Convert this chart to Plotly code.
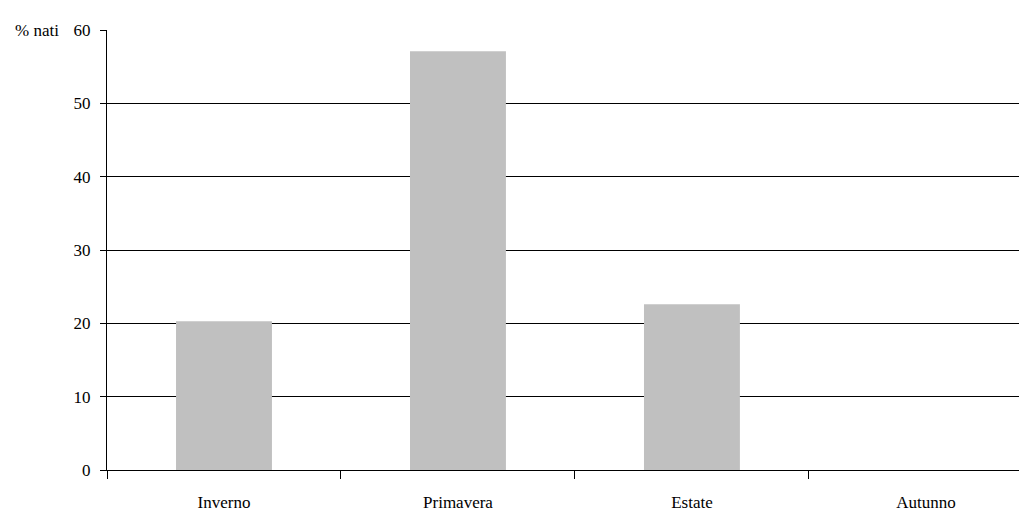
import plotly.graph_objects as go

categories = ["Inverno", "Primavera", "Estate", "Autunno"]
values = [20.3, 57.1, 22.6, 0]
y_ticks = [0, 10, 20, 30, 40, 50, 60]

font = dict(family="Liberation Serif", size=17, color="black")

fig = go.Figure(go.Bar(x=categories, y=values, marker=dict(color="#c0c0c0", line=dict(width=0))))

fig.update_layout(
    width=1019, height=508,
    margin=dict(l=99, r=0, t=22, b=46),
    paper_bgcolor="white", plot_bgcolor="white",
    bargap=0.59,
    showlegend=False,
    font=font,
)
fig.update_xaxes(
    range=[-0.5, 3.432], type="category",
    showline=True, linecolor="black", linewidth=1,
    ticks="outside", tickson="boundaries", ticklen=8, tickcolor="black",
    ticklabelstandoff=17,
    showgrid=False,
    tickfont=font,
)
fig.update_yaxes(
    range=[0, 60], tickvals=y_ticks,
    showline=True, linecolor="black", linewidth=1,
    ticks="outside", ticklen=6, tickcolor="black",
    ticklabelstandoff=6,
    showgrid=True, gridcolor="black", gridwidth=1,
    zeroline=False,
    tickfont=font,
)
fig.add_annotation(text="% nati", xref="paper", yref="paper", x=-0.076, y=1.0,
                   xanchor="center", yanchor="middle", showarrow=False, font=font)
fig.write_html("out.html")
